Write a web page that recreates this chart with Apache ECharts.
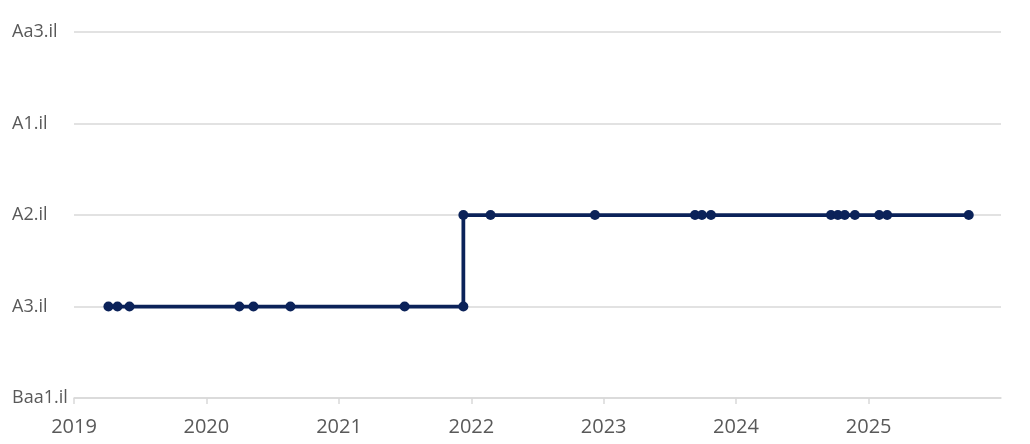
<!DOCTYPE html>
<html>
<head>
<meta charset="utf-8">
<script src="https://cdn.jsdelivr.net/npm/echarts@6/dist/echarts.min.js"></script>
<style>
  html, body { margin: 0; padding: 0; background: #fff; }
  #chart { width: 1030px; height: 444px; }
</style>
</head>
<body>
<div id="chart"></div>
<script>
// rating scale, bottom to top
const ratings = ['Baa1.il', 'A3.il', 'A2.il', 'A1.il', 'Aa3.il'];
// rating actions (dates)
const dates = [
  '2019-04-06', '2019-05-01', '2019-06-03', '2020-04-01', '2020-05-10',
  '2020-08-20', '2021-07-01', '2021-12-10', '2021-12-10', '2022-02-23',
  '2022-12-08', '2023-09-10', '2023-09-29', '2023-10-24', '2024-09-19',
  '2024-10-08', '2024-10-27', '2024-11-24', '2025-01-30', '2025-02-21',
  '2025-10-04'
];
const values = [
  'A3.il', 'A3.il', 'A3.il', 'A3.il', 'A3.il',
  'A3.il', 'A3.il', 'A3.il', 'A2.il', 'A2.il',
  'A2.il', 'A2.il', 'A2.il', 'A2.il', 'A2.il',
  'A2.il', 'A2.il', 'A2.il', 'A2.il', 'A2.il',
  'A2.il'
];

const chart = echarts.init(document.getElementById('chart'));
const textColor = '#595959';
const gridColor = '#d9d9d9';

chart.setOption({
  animation: false,
  backgroundColor: '#ffffff',
  textStyle: { fontFamily: 'Open Sans' },
  grid: { left: 74, right: 29, top: 32, bottom: 46 },
  xAxis: {
    type: 'time',
    min: '2019-01-01',
    max: '2026-01-01',
    interval: 365.25 * 24 * 3600 * 1000,
    axisLine: { show: true, lineStyle: { color: gridColor, width: 1.5 } },
    axisTick: { show: true, length: 6, lineStyle: { color: gridColor, width: 1.5 } },
    splitLine: { show: false },
    axisLabel: {
      color: textColor,
      fontSize: 20,
      margin: 19,
      showMaxLabel: false,
      formatter(v) {
        return String(new Date(v + 15 * 24 * 3600 * 1000).getFullYear());
      },
    },
  },
  yAxis: {
    type: 'category',
    data: ratings,
    boundaryGap: false,
    axisLine: { show: false },
    axisTick: { show: false },
    splitLine: { show: true, lineStyle: { color: gridColor, width: 1.5 } },
    axisLabel: {
      color: textColor,
      fontSize: 18,
      align: 'left',
      margin: 62,
    },
  },
  series: [
    {
      type: 'line',
      data: dates.map((d, i) => [d, values[i]]),
      symbol: 'circle',
      symbolSize: 10,
      showSymbol: true,
      lineStyle: { color: '#0b2259', width: 3.75 },
      itemStyle: { color: '#0b2259' },
    },
  ],
});
</script>
</body>
</html>
